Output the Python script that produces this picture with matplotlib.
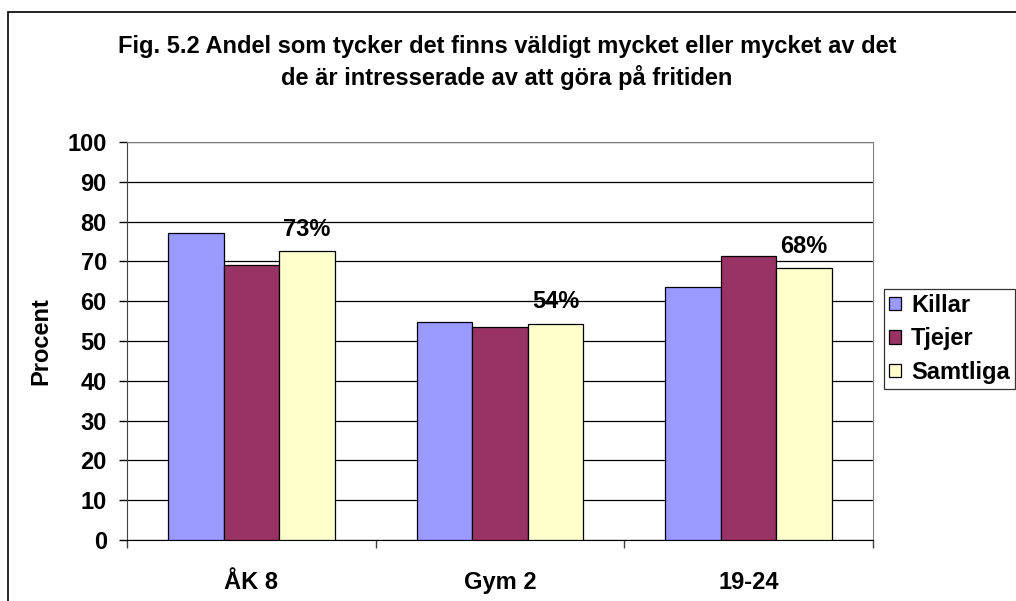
import matplotlib
matplotlib.use("Agg")
import matplotlib.pyplot as plt
import numpy as np
from matplotlib.patches import Rectangle

categories = ["ÅK 8", "Gym 2", "19-24"]
series_names = ["Killar", "Tjejer", "Samtliga"]
killar = [77.1, 54.8, 63.6]
tjejer = [69.1, 53.5, 71.4]
samtliga = [72.6, 54.3, 68.3]
labels = ["73%", "54%", "68%"]
colors = ["#9999FF", "#993366", "#FFFFCC"]
yticks = list(range(0, 101, 10))

plt.rcParams['font.family'] = ['Liberation Sans', 'DejaVu Sans']
plt.rcParams['font.weight'] = 'bold'
FS = 17

fig = plt.figure(figsize=(10.16, 6.01), dpi=100)
W, H = 1016, 601
ax = fig.add_axes([127 / W, 1 - 540 / H, (873 - 127) / W, (540 - 142) / H])

x = np.arange(len(categories))
bw = 0.223
for i, (vals, name, c) in enumerate(zip([killar, tjejer, samtliga], series_names, colors)):
    ax.bar(x + (i - 1) * bw, vals, bw, color=c, edgecolor="black", linewidth=0.9,
           label=name, zorder=3)

for xi, v, lab in zip(x, samtliga, labels):
    ax.annotate(lab, (xi + bw, v), xytext=(0, 7.5), textcoords="offset points",
                ha="center", va="bottom", fontsize=FS, fontweight="bold", zorder=4)

ax.set_xlim(-0.5, 2.5)
ax.set_ylim(0, 100)
ax.set_yticks(yticks)
ax.set_yticklabels([str(t) for t in yticks], fontsize=FS, fontweight="bold")
ax.set_xticks(x)
ax.set_xticklabels(categories, fontsize=FS, fontweight="bold")
ax.set_xticks([-0.5, 0.5, 1.5, 2.5], minor=True)
ax.tick_params(axis="x", which="major", length=0, pad=22)
ax.tick_params(axis="x", which="minor", length=6, width=1, color="#404040", direction="out")
ax.tick_params(axis="y", length=6, width=1, direction="out", pad=8.5)
ax.yaxis.grid(True, color="black", linewidth=0.9, zorder=0)
ax.set_axisbelow(True)
for s in ["top", "right"]:
    ax.spines[s].set_color("#808080")
ax.spines["left"].set_color("#404040")
ax.spines["bottom"].set_color("black")
ax.set_ylabel("Procent", fontsize=FS, fontweight="bold", labelpad=11)

fig.text(507 / W, 1 - 47 / H, "Fig. 5.2 Andel som tycker det finns väldigt mycket eller mycket av det",
         ha="center", va="center", fontsize=FS, fontweight="bold")
fig.text(507 / W, 1 - 77 / H, "de är intresserade av att göra på fritiden",
         ha="center", va="center", fontsize=FS, fontweight="bold")

leg = fig.legend(loc="upper left", bbox_to_anchor=(884 / W, 1 - 289 / H),
                 frameon=True, fancybox=False, edgecolor="black", fontsize=FS,
                 handlelength=0.5, handleheight=0.5, handletextpad=0.45,
                 borderpad=0.2, labelspacing=0.45, borderaxespad=0)
leg.get_frame().set_linewidth(0.9)
for t in leg.get_texts():
    t.set_fontweight("bold")

fig.patches.append(Rectangle((8 / W, -0.1), 1.2, 1 - 12 / H + 0.1, transform=fig.transFigure,
                             fill=False, edgecolor="black", linewidth=1.2, clip_on=False))

fig.savefig("out.png", dpi=100)
